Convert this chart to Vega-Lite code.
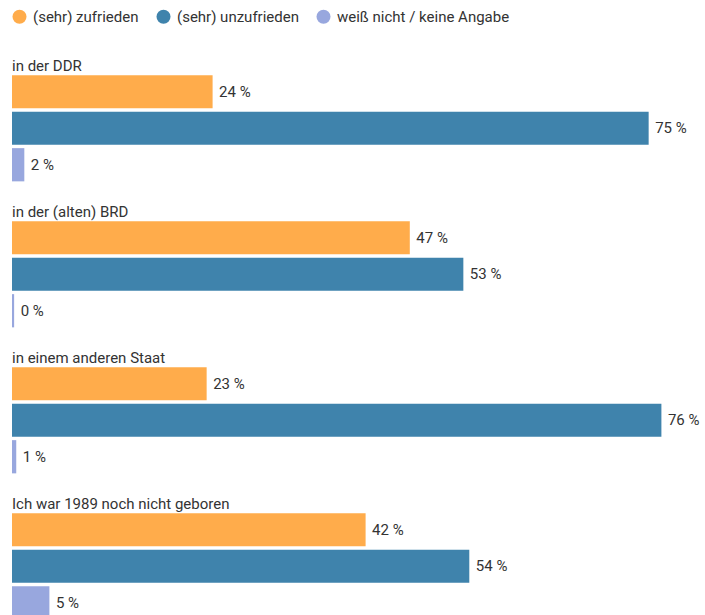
{
  "$schema": "https://vega.github.io/schema/vega-lite/v6.json",
  "width": 680,
  "height": 584,
  "padding": {"left": 12, "top": 9, "right": 0, "bottom": 0},
  "config": {
    "view": {"stroke": null},
    "font": "Roboto",
    "text": {"font": "Roboto", "fontSize": 15, "color": "#333333"}
  },
  "datasets": {
    "bars": [
      {"group": "in der DDR", "category": "(sehr) zufrieden", "value": 23.6, "label": "24 %"},
      {"group": "in der DDR", "category": "(sehr) unzufrieden", "value": 74.9, "label": "75 %"},
      {"group": "in der DDR", "category": "weiß nicht / keine Angabe", "value": 1.45, "label": "2 %"},
      {"group": "in der (alten) BRD", "category": "(sehr) zufrieden", "value": 46.8, "label": "47 %"},
      {"group": "in der (alten) BRD", "category": "(sehr) unzufrieden", "value": 53.1, "label": "53 %"},
      {"group": "in der (alten) BRD", "category": "weiß nicht / keine Angabe", "value": 0.25, "label": "0 %"},
      {"group": "in einem anderen Staat", "category": "(sehr) zufrieden", "value": 22.9, "label": "23 %"},
      {"group": "in einem anderen Staat", "category": "(sehr) unzufrieden", "value": 76.4, "label": "76 %"},
      {"group": "in einem anderen Staat", "category": "weiß nicht / keine Angabe", "value": 0.5, "label": "1 %"},
      {"group": "Ich war 1989 noch nicht geboren", "category": "(sehr) zufrieden", "value": 41.6, "label": "42 %"},
      {"group": "Ich war 1989 noch nicht geboren", "category": "(sehr) unzufrieden", "value": 53.8, "label": "54 %"},
      {"group": "Ich war 1989 noch nicht geboren", "category": "weiß nicht / keine Angabe", "value": 4.4, "label": "5 %"}
    ],
    "titles": [
      {"group": "in der DDR", "category": "title"},
      {"group": "in der (alten) BRD", "category": "title"},
      {"group": "in einem anderen Staat", "category": "title"},
      {"group": "Ich war 1989 noch nicht geboren", "category": "title"}
    ]
  },
  "encoding": {
    "y": {
      "field": "group",
      "type": "nominal",
      "scale": {
        "domain": ["in der DDR", "in der (alten) BRD", "in einem anderen Staat", "Ich war 1989 noch nicht geboren"],
        "paddingInner": 0,
        "paddingOuter": 0
      },
      "axis": null
    },
    "yOffset": {
      "field": "category",
      "type": "nominal",
      "scale": {
        "domain": ["title", "(sehr) zufrieden", "(sehr) unzufrieden", "weiß nicht / keine Angabe"],
        "paddingInner": 0.09,
        "paddingOuter": 0.045
      }
    }
  },
  "layer": [
    {
      "data": {"name": "bars"},
      "mark": {"type": "bar"},
      "encoding": {
        "x": {
          "field": "value",
          "type": "quantitative",
          "scale": {"domain": [0, 80], "nice": false},
          "axis": null
        },
        "color": {
          "field": "category",
          "type": "nominal",
          "scale": {
            "domain": ["(sehr) zufrieden", "(sehr) unzufrieden", "weiß nicht / keine Angabe"],
            "range": ["#ffac4b", "#3f83ac", "#98a7de"]
          },
          "legend": {
            "orient": "top",
            "direction": "horizontal",
            "title": null,
            "symbolType": "circle",
            "symbolSize": 196,
            "symbolOpacity": 1,
            "symbolStrokeWidth": 0,
            "labelFont": "Roboto",
            "labelFontSize": 15,
            "labelColor": "#333333",
            "labelLimit": 0,
            "labelOffset": 6,
            "columnPadding": 17,
            "offset": 12,
            "padding": 0
          }
        }
      }
    },
    {
      "data": {"name": "bars"},
      "mark": {"type": "text", "align": "left", "baseline": "middle", "dx": 6.5},
      "encoding": {
        "x": {"field": "value", "type": "quantitative"},
        "text": {"field": "label", "type": "nominal"}
      }
    },
    {
      "data": {"name": "titles"},
      "mark": {"type": "text", "align": "left", "baseline": "middle", "dy": 11},
      "encoding": {
        "x": {"datum": 0, "type": "quantitative"},
        "text": {"field": "group", "type": "nominal"}
      }
    }
  ]
}
